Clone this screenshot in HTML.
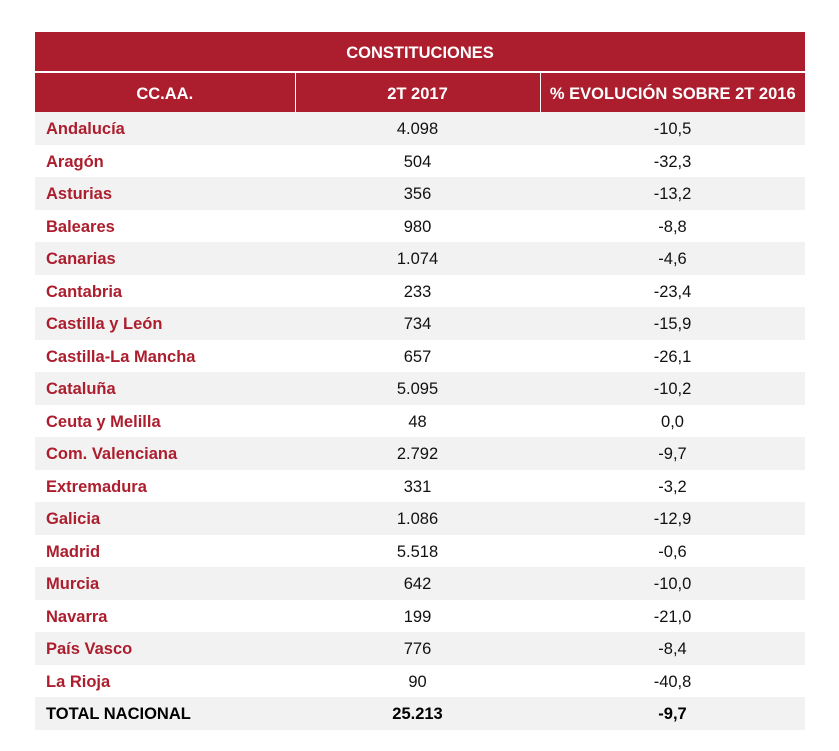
<!DOCTYPE html>
<html><head><meta charset="utf-8"><style>
body{margin:0;background:#fff;width:839px;height:751px;overflow:hidden;font-family:"Liberation Sans",sans-serif}
table{position:absolute;left:35px;top:32px;width:770px;border-collapse:collapse;table-layout:fixed}
td{padding:3px 0 0 0;height:29.5px;font-size:16.5px;color:#111}
.h td{background:#ac1e2e;color:#fff;font-weight:bold;text-align:center;font-size:16.5px}
.t td{height:36px;border-bottom:2px solid #fff}
.h2 td{height:36px}
.h2 td+td{border-left:1px solid #fff}
td.n{color:#ac1e2e;font-weight:bold;padding-left:11px}
td.c{text-align:center}
tr.g td{background:#f2f2f2}
tr.tot td{font-weight:bold;color:#000}
</style></head><body>
<table>
<colgroup><col style="width:260px"><col style="width:245px"><col style="width:265px"></colgroup>
<tr class="h t"><td colspan="3">CONSTITUCIONES</td></tr>
<tr class="h h2"><td>CC.AA.</td><td>2T 2017</td><td>% EVOLUCIÓN SOBRE 2T 2016</td></tr>
<tr class="g"><td class="n">Andalucía</td><td class="c">4.098</td><td class="c">-10,5</td></tr>
<tr><td class="n">Aragón</td><td class="c">504</td><td class="c">-32,3</td></tr>
<tr class="g"><td class="n">Asturias</td><td class="c">356</td><td class="c">-13,2</td></tr>
<tr><td class="n">Baleares</td><td class="c">980</td><td class="c">-8,8</td></tr>
<tr class="g"><td class="n">Canarias</td><td class="c">1.074</td><td class="c">-4,6</td></tr>
<tr><td class="n">Cantabria</td><td class="c">233</td><td class="c">-23,4</td></tr>
<tr class="g"><td class="n">Castilla y León</td><td class="c">734</td><td class="c">-15,9</td></tr>
<tr><td class="n">Castilla-La Mancha</td><td class="c">657</td><td class="c">-26,1</td></tr>
<tr class="g"><td class="n">Cataluña</td><td class="c">5.095</td><td class="c">-10,2</td></tr>
<tr><td class="n">Ceuta y Melilla</td><td class="c">48</td><td class="c">0,0</td></tr>
<tr class="g"><td class="n">Com. Valenciana</td><td class="c">2.792</td><td class="c">-9,7</td></tr>
<tr><td class="n">Extremadura</td><td class="c">331</td><td class="c">-3,2</td></tr>
<tr class="g"><td class="n">Galicia</td><td class="c">1.086</td><td class="c">-12,9</td></tr>
<tr><td class="n">Madrid</td><td class="c">5.518</td><td class="c">-0,6</td></tr>
<tr class="g"><td class="n">Murcia</td><td class="c">642</td><td class="c">-10,0</td></tr>
<tr><td class="n">Navarra</td><td class="c">199</td><td class="c">-21,0</td></tr>
<tr class="g"><td class="n">País Vasco</td><td class="c">776</td><td class="c">-8,4</td></tr>
<tr><td class="n">La Rioja</td><td class="c">90</td><td class="c">-40,8</td></tr>
<tr class="g tot"><td class="n" style="color:#000">TOTAL NACIONAL</td><td class="c">25.213</td><td class="c">-9,7</td></tr>
</table>
</body></html>
